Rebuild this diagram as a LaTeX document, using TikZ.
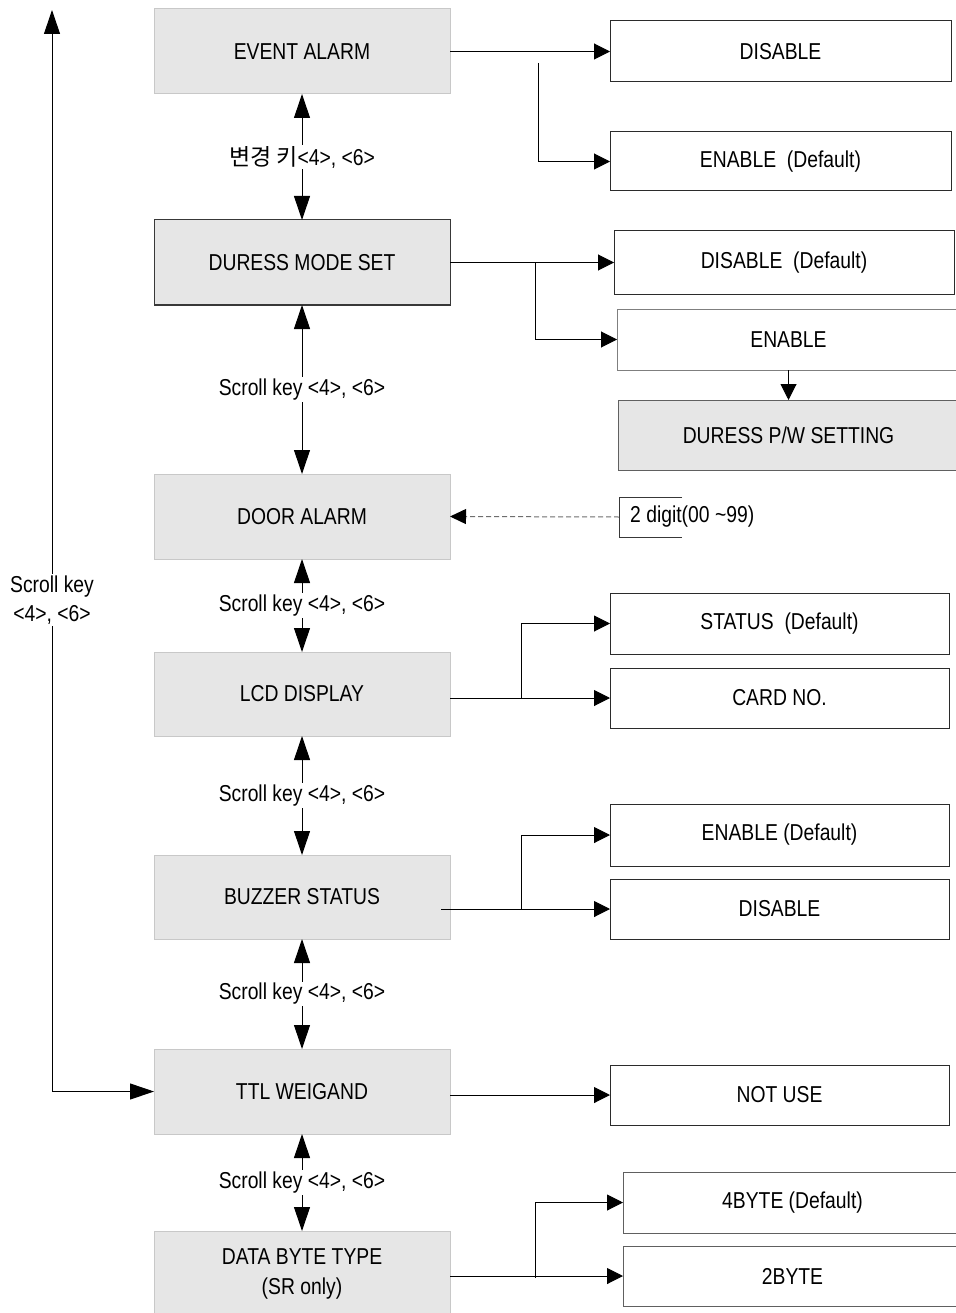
\documentclass[tikz,border=0pt]{standalone}
\usepackage{fontspec}
\setmainfont{Liberation Sans}[FakeStretch=0.84]
\newfontfamily\krfont{Noto Sans CJK KR}
\usetikzlibrary{arrows.meta}

\definecolor{menufill}{HTML}{E6E6E6}
\definecolor{menuedge}{HTML}{C8C8C8}
\definecolor{darkedge}{HTML}{383838}
\definecolor{optedge}{HTML}{2B2B2B}
\definecolor{midedge}{HTML}{7F7F7F}
\definecolor{dashgray}{HTML}{6E6E6E}

\newcommand\dfont{\fontsize{23}{29}\selectfont}

\begin{document}
\begin{tikzpicture}[x=1pt,y=-1pt,
  every node/.style={font=\dfont, text=black},
  menu/.style={draw=menuedge, fill=menufill, line width=1pt,
    minimum width=296pt, minimum height=85pt, inner sep=0pt, outer sep=0pt, align=center},
  option/.style={draw=optedge, fill=white, line width=1pt,
    minimum width=339pt, minimum height=61pt, inner sep=0pt, outer sep=0pt},
  link/.style={line width=1pt, -{Triangle[length=16pt,width=16pt]}},
  scroll/.style={line width=1pt,
    {Triangle[length=24pt,width=16pt]}-{Triangle[length=24pt,width=16pt]}},
  keylbl/.style={fill=white, inner sep=1.5pt, align=center},
  hint/.style={draw=dashgray, line width=1pt, dash pattern=on 5pt off 3pt,
    -{Triangle[length=16pt,width=15pt,color=black]}}
]
% page
\useasboundingbox (0,0) rectangle (955,1313);
\fill[white] (0,0) rectangle (955,1313);

% main menu column
\node[menu] (ev)   at (302,51.5)   {EVENT ALARM};
\node[menu, draw=darkedge] (du) at (302,262.5) {DURESS MODE SET};
\node[menu] (door) at (302,516.5)  {DOOR ALARM};
\node[menu, minimum height=84pt] (lcd) at (302,694) {LCD DISPLAY};
\node[menu, minimum height=84pt] (buz) at (302,897) {BUZZER STATUS};
\node[menu] (ttl)  at (302,1091.5) {TTL WEIGAND};
\node[menu] (data) at (302,1273.5) {DATA BYTE TYPE\\[1pt](SR only)};

% option boxes
\node[option, minimum width=341pt] (dis1) at (780.5,51.5) {DISABLE};
\node[option, minimum width=341pt, minimum height=59pt] (en1) at (780.5,161.5) {ENABLE\ \ (Default)};
\node[option, minimum width=340pt, minimum height=64pt] (dis2) at (784,262.5) {DISABLE\ \ (Default)};
\node[option, draw=midedge, minimum width=343pt] (en2) at (788.5,339.5) {ENABLE};
\node[option, draw=darkedge!80, fill=menufill, minimum width=341pt, minimum height=70pt] (pw) at (788.5,435) {DURESS P/W SETTING};
\node[option] (status) at (779.5,623.5) {STATUS\ \ (Default)};
\node[option, minimum height=60pt] (card) at (779.5,698) {CARD NO.};
\node[option, minimum height=62pt] (en3) at (779.5,835) {ENABLE (Default)};
\node[option, minimum height=60pt] (dis3) at (779.5,909) {DISABLE};
\node[option, minimum height=60pt] (notuse) at (779.5,1095) {NOT USE};
\node[option, draw=darkedge!80] (b4) at (792.5,1202.5) {4BYTE (Default)};
\node[option, draw=darkedge!80, minimum height=60pt] (b2) at (792.5,1276) {2BYTE};

% door alarm value hint
\node[minimum width=63pt, minimum height=40pt, inner sep=0pt, outer sep=0pt] (dgbox) at (650.5,517) {};
\draw[darkedge, line width=0.8pt] (dgbox.north east) -- (dgbox.north west) -- (dgbox.south west) -- (dgbox.south east);
\node[anchor=west, inner sep=0pt] (dgtxt) at (630,517) {2 digit(00 \textasciitilde99)};
\draw[hint] (dgbox.west) -- (door.east);

% scroll keys between menu items
\draw[scroll] (ev.south) -- (du.north) node[midway, keylbl] (k1) {{\krfont 변경 키}<4>, <6>};
\draw[scroll] (du.south) -- (door.north) node[midway, keylbl] (k2) {Scroll key <4>, <6>};
\draw[scroll] (door.south) -- (lcd.north) node[midway, keylbl] (k3) {Scroll key <4>, <6>};
\draw[scroll] (lcd.south) -- (buz.north) node[midway, keylbl] (k4) {Scroll key <4>, <6>};
\draw[scroll] (buz.south) -- (ttl.north) node[midway, keylbl] (k5) {Scroll key <4>, <6>};
\draw[scroll] (ttl.south) -- (data.north) node[midway, keylbl] (k6) {Scroll key <4>, <6>};

% wrap-around loop on the left
\coordinate (loopTop) at (52,10);
\draw[scroll] (loopTop) |- (ttl.west);
\node[keylbl, inner sep=2pt] (kl) at (52,600) {Scroll key\\<4>, <6>};

% option branches
\coordinate (evBr) at (538,63);
\draw[link] (ev.east) -- (dis1.west);
\draw[link] (evBr) |- (en1.west);

\coordinate (duBr) at (535,262.5);
\draw[link] (du.east) -- (dis2.west);
\draw[link] (duBr) |- (en2.west);
\draw[link] (en2.south) -- (pw.north);

\coordinate (lcdBr) at (521,698);
\draw[link] (lcd.east |- card.west) -- (card.west);
\draw[link] (lcdBr) |- (status.west);

\coordinate (buzStart) at (441,909);
\coordinate (buzBr) at (521,909);
\draw[link] (buzStart) -- (dis3.west);
\draw[link] (buzBr) |- (en3.west);

\draw[link] (ttl.east |- notuse.west) -- (notuse.west);

\coordinate (dataBr) at (535,1278);
\draw[link] (data.east |- b2.west) -- (b2.west);
\draw[link] (dataBr) |- (b4.west);
\end{tikzpicture}
\end{document}
